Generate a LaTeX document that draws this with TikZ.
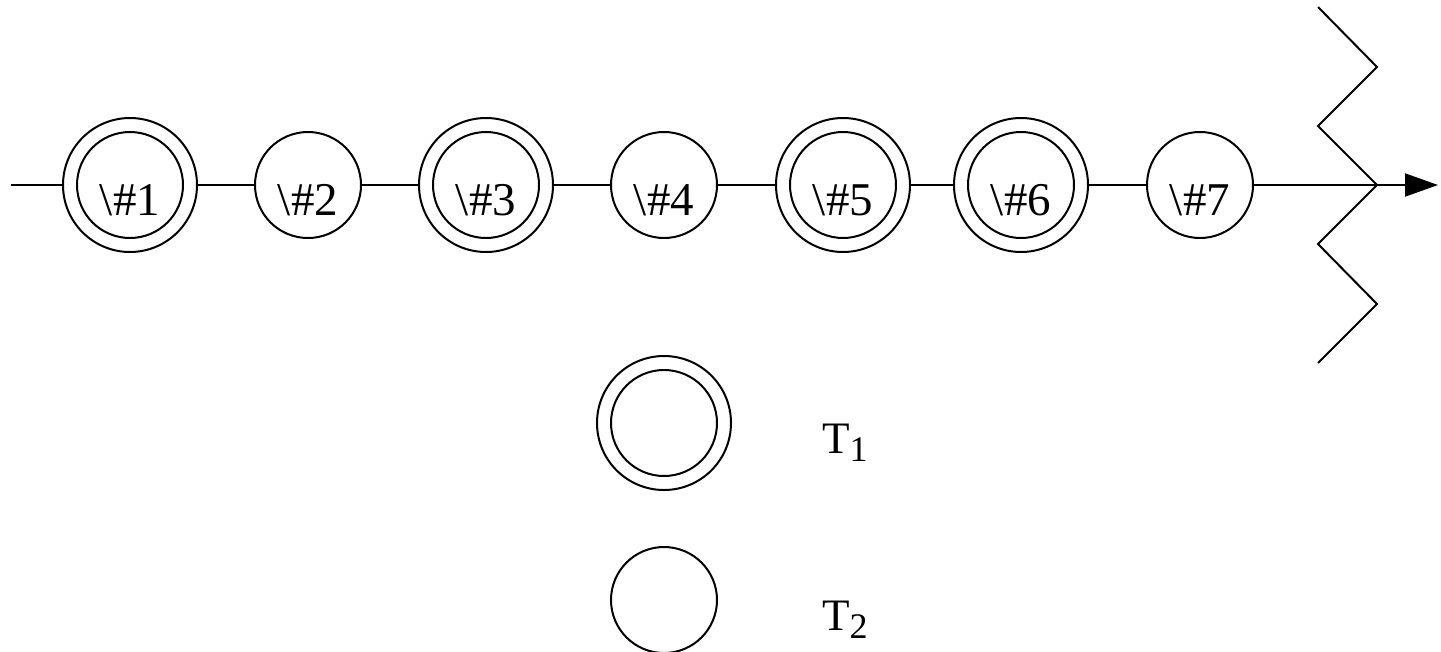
\documentclass[tikz,border=0pt]{standalone}
\usepackage{fontspec}
\setmainfont{Liberation Serif}
\usetikzlibrary{arrows.meta}
\tikzset{
  ln/.style={line width=2pt},
  st/.style={circle, draw, line width=2pt, minimum size=106pt, inner sep=0pt,
    font=\fontsize{47}{47}\selectfont},
  dst/.style={circle, draw, line width=2pt, minimum size=134pt, inner sep=0pt,
    font=\fontsize{47}{47}\selectfont,
    path picture={\draw[line width=2pt] (path picture bounding box.center) circle (53pt);}},
  lbl/.style={anchor=base west, inner sep=0pt, font=\fontsize{45}{45}\selectfont},
}
\newcommand{\lowtxt}[1]{\raisebox{-30pt}[0pt][0pt]{#1}}
\newcommand{\subtxt}[1]{\raisebox{-8pt}{\fontsize{36}{36}\selectfont #1}}
\begin{document}
\begin{tikzpicture}[x=1pt,y=-1pt]
\useasboundingbox (0,0) rectangle (1441,651);
\coordinate (start) at (11,185);
\node[dst] (c1) at (130,185) {\lowtxt{\textbackslash\#1}};
\node[st]  (c2) at (308,185) {\lowtxt{\textbackslash\#2}};
\node[dst] (c3) at (486,185) {\lowtxt{\textbackslash\#3}};
\node[st]  (c4) at (664,185) {\lowtxt{\textbackslash\#4}};
\node[dst] (c5) at (843,185) {\lowtxt{\textbackslash\#5}};
\node[dst] (c6) at (1021,185) {\lowtxt{\textbackslash\#6}};
\node[st]  (c7) at (1200,185) {\lowtxt{\textbackslash\#7}};
\coordinate (end) at (1438,185);
\draw[ln] (start) -- (c1) -- (c2) -- (c3) -- (c4) -- (c5) -- (c6) -- (c7);
\draw[ln, -{Triangle[length=33pt,width=23pt]}] (c7) -- (end);
% zigzag
\draw[ln] (1318,7) -- (1377,67) -- (1318,126) -- (1377,185) -- (1318,244) -- (1377,304) -- (1318,363);
% legend
\node[dst] (k1) at (664,423) {};
\node[st]  (k2) at (664,600) {};
\node[lbl] (t1) at (822,453) {T\subtxt{1}};
\node[lbl] (t2) at (822,630) {T\subtxt{2}};
\end{tikzpicture}
\end{document}
